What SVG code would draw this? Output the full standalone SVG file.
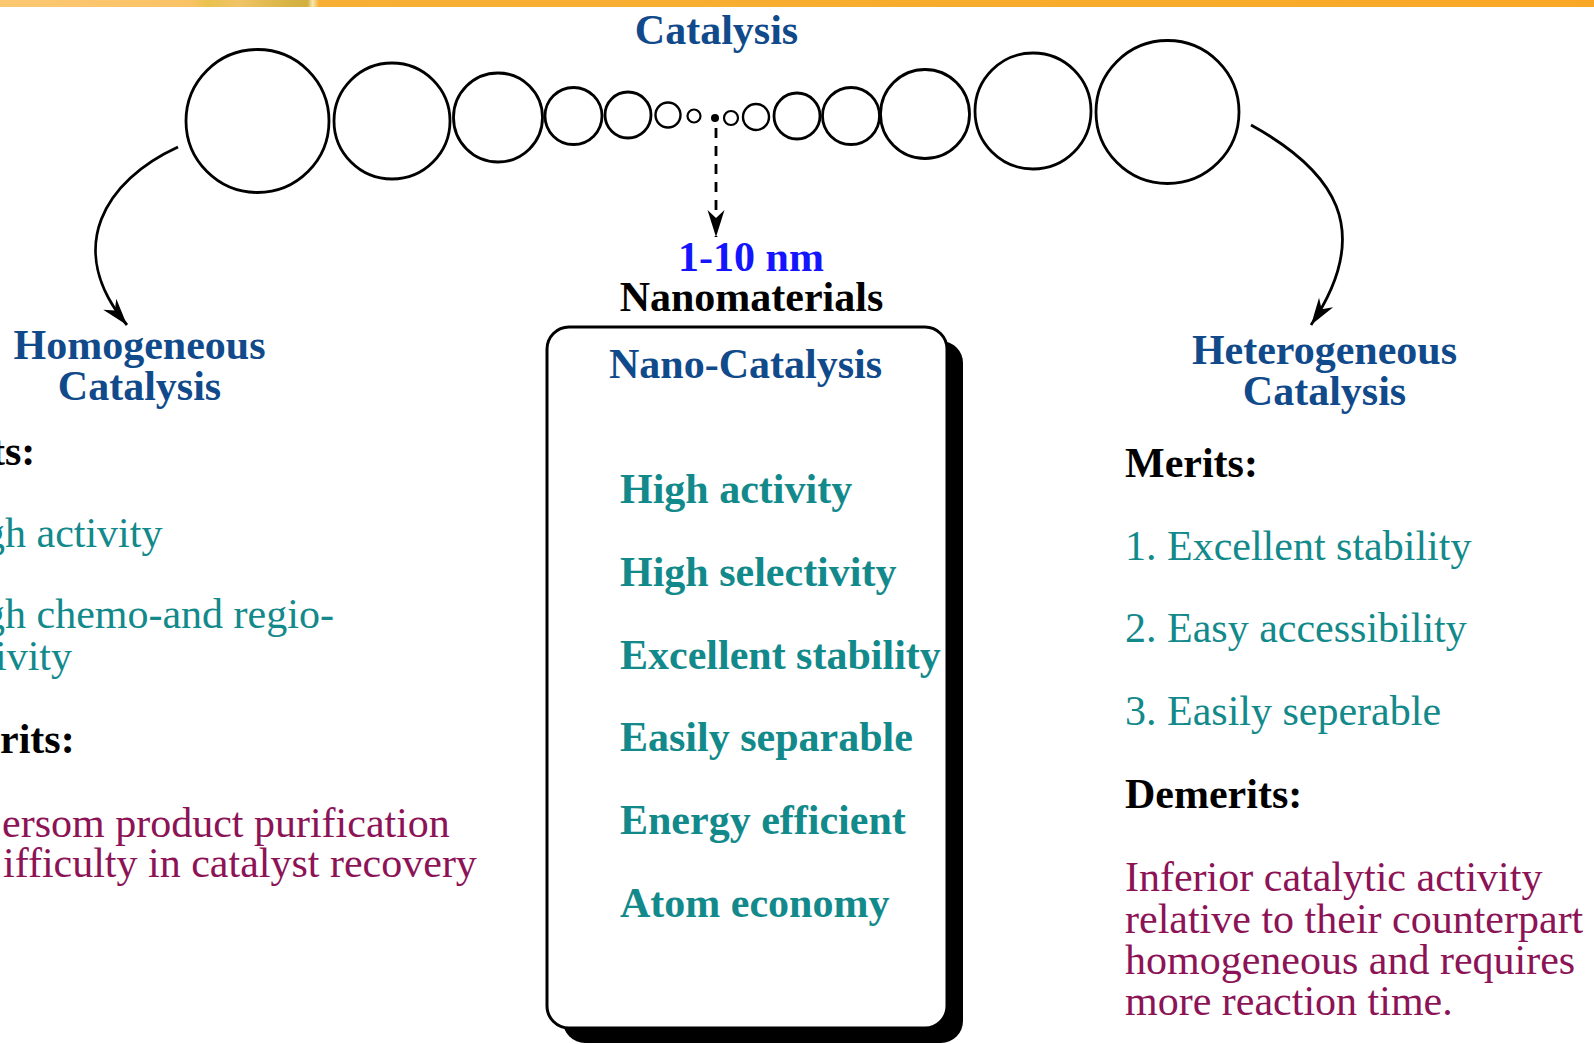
<svg xmlns="http://www.w3.org/2000/svg" width="1594" height="1044" viewBox="0 0 1594 1044">
<defs>
<linearGradient id="bar" x1="0" y1="0" x2="1594" y2="0" gradientUnits="userSpaceOnUse">
<stop offset="0" stop-color="#fbc872"/>
<stop offset="0.12" stop-color="#fbc366"/>
<stop offset="0.13" stop-color="#e9c24e"/>
<stop offset="0.15" stop-color="#f1c466"/>
<stop offset="0.18" stop-color="#d8b444"/>
<stop offset="0.193" stop-color="#d2b040"/>
<stop offset="0.196" stop-color="#f5e6b0"/>
<stop offset="0.2" stop-color="#f7b035"/>
<stop offset="1" stop-color="#f9a825"/>
</linearGradient>
<marker id="ah" viewBox="-28 -9 30 18" refX="1" refY="0" markerWidth="30" markerHeight="18" markerUnits="userSpaceOnUse" orient="auto">
<path d="M1,0 L-26,-8.5 L-18,0 L-26,8.5 Z" fill="#000"/>
</marker>
</defs>
<style>
.t{font-family:"Liberation Serif","Times New Roman",serif;font-size:42px}
.b{font-weight:bold}
.blue{fill:#114a8b}
.teal{fill:#12898a}
.maroon{fill:#8c1356}
.blk{fill:#000}
.c{fill:none;stroke:#000;stroke-width:2.8}
.conn{fill:none;stroke:#000;stroke-width:2.8}
</style>
<rect x="0" y="0" width="1594" height="1044" fill="#fff"/>
<rect x="0" y="0" width="1594" height="7" fill="url(#bar)"/>

<g id="catalysis-title">
<text class="t b blue" x="716.5" y="44" text-anchor="middle">Catalysis</text>
</g>

<g id="particle-chain">
<circle class="c" cx="257.5" cy="121" r="71.5"/>
<circle class="c" cx="392" cy="121" r="58"/>
<circle class="c" cx="498" cy="117.5" r="44.5"/>
<circle class="c" cx="573.5" cy="116" r="28.5"/>
<circle class="c" cx="628" cy="115" r="23"/>
<circle class="c" cx="668" cy="115" r="12.5" style="stroke-width:2.4"/>
<circle class="c" cx="694" cy="116" r="6.5" style="stroke-width:2.2"/>
<circle cx="715" cy="118" r="4" fill="#000"/>
<circle class="c" cx="731" cy="118" r="7" style="stroke-width:2.2"/>
<circle class="c" cx="756" cy="117" r="13" style="stroke-width:2.4"/>
<circle class="c" cx="797" cy="116" r="23"/>
<circle class="c" cx="851" cy="116" r="28.5"/>
<circle class="c" cx="925" cy="114" r="44.5"/>
<circle class="c" cx="1033" cy="111" r="58"/>
<circle class="c" cx="1167.5" cy="112" r="71.5"/>
</g>

<g id="connectors">
<path class="conn" d="M178,147 C105.3,180.2 63,248 127,325" marker-end="url(#ah)"/>
<path class="conn" d="M1251,125 C1334,170.8 1375.4,229.5 1311,325" marker-end="url(#ah)"/>
<path class="conn" d="M716,128 L716,237" stroke-width="3" stroke-dasharray="10 8" marker-end="url(#ah)"/>
</g>

<g id="homogeneous">
<text class="t b blue" x="139.5" y="359" text-anchor="middle">Homogeneous</text>
<text class="t b blue" x="139.5" y="400" text-anchor="middle">Catalysis</text>
<text class="t b blk" x="-9" y="465">ts:</text>
<text class="t teal" x="-16" y="547">gh activity</text>
<text class="t teal" x="-16" y="628">gh chemo-and regio-</text>
<text class="t teal" x="-5" y="670">ivity</text>
<text class="t b blk" x="0" y="753">rits:</text>
<text class="t maroon" x="2" y="837">ersom product purification</text>
<text class="t maroon" x="3" y="877">ifficulty in catalyst recovery</text>
</g>

<g id="nano-catalysis">
<text class="t b" x="751" y="271" text-anchor="middle" fill="#1414ff">1-10 nm</text>
<text class="t b blk" x="751.5" y="311" text-anchor="middle">Nanomaterials</text>
<rect x="563" y="341" width="400" height="702" rx="22" fill="#000"/>
<rect x="547" y="327" width="400" height="701" rx="22" fill="#fff" stroke="#000" stroke-width="3"/>
<text class="t b blue" x="745.5" y="378" text-anchor="middle">Nano-Catalysis</text>
<text class="t b teal" x="620" y="503">High activity</text>
<text class="t b teal" x="620" y="586">High selectivity</text>
<text class="t b teal" x="620" y="669">Excellent stability</text>
<text class="t b teal" x="620" y="751">Easily separable</text>
<text class="t b teal" x="620" y="834">Energy efficient</text>
<text class="t b teal" x="620" y="917">Atom economy</text>
</g>

<g id="heterogeneous">
<text class="t b blue" x="1324.5" y="364" text-anchor="middle">Heterogeneous</text>
<text class="t b blue" x="1324.5" y="405" text-anchor="middle">Catalysis</text>
<text class="t b blk" x="1125" y="477">Merits:</text>
<text class="t teal" x="1125" y="560">1. Excellent stability</text>
<text class="t teal" x="1125" y="642">2. Easy accessibility</text>
<text class="t teal" x="1125" y="725">3. Easily seperable</text>
<text class="t b blk" x="1125" y="808">Demerits:</text>
<text class="t maroon" x="1125" y="891">Inferior catalytic activity</text>
<text class="t maroon" x="1125" y="933">relative to their counterpart</text>
<text class="t maroon" x="1125" y="974">homogeneous and requires</text>
<text class="t maroon" x="1125" y="1015">more reaction time.</text>
</g>
</svg>
